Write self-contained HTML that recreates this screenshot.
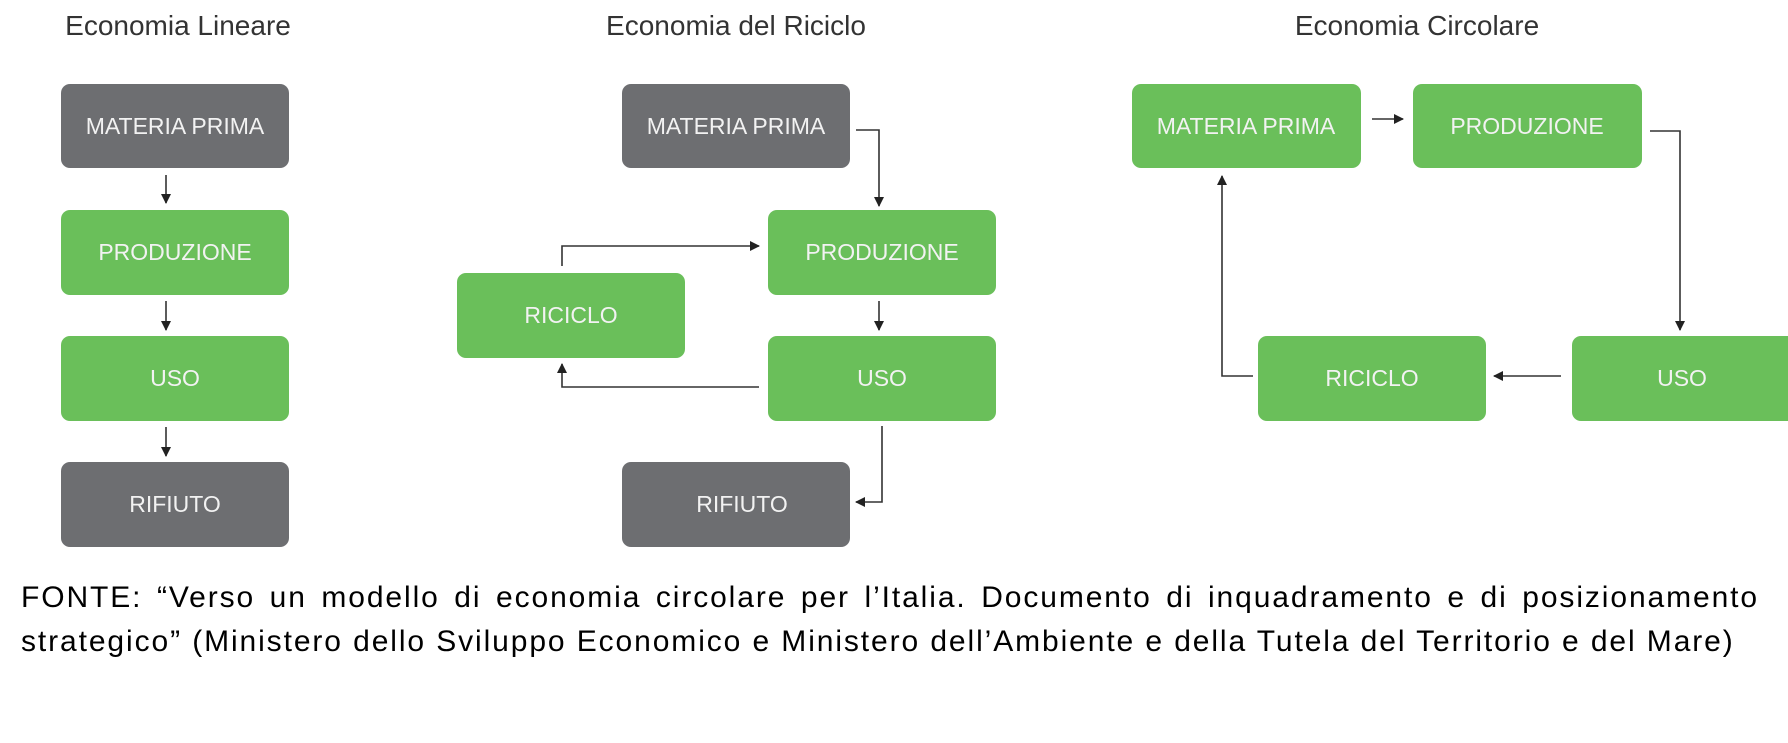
<!DOCTYPE html>
<html><head><meta charset="utf-8"><style>
html,body{margin:0;padding:0;background:#fff;}
svg{display:block;position:absolute;left:0;top:0;}
.cap{position:absolute;left:21px;width:1738px;font-family:"Liberation Sans",Arial,sans-serif;font-size:30px;color:#000;white-space:nowrap;line-height:44px;letter-spacing:1.9px;}
.l1{top:576px;text-align:justify;text-align-last:justify;white-space:normal;}
.l2{top:620px;}
</style></head><body>
<svg width="1788" height="743" viewBox="0 0 1788 743" xmlns="http://www.w3.org/2000/svg">
<defs>
<marker id="a" markerWidth="10" markerHeight="10" refX="9" refY="5" orient="auto" markerUnits="userSpaceOnUse">
<path d="M0,0 L10,5 L0,10 z" fill="#222"/>
</marker>
</defs>
<rect width="1788" height="743" fill="#fff"/>
<g font-family="Liberation Sans, Arial, sans-serif" font-size="28" fill="#333" text-anchor="middle">
<text x="178" y="35">Economia Lineare</text>
<text x="736" y="35">Economia del Riciclo</text>
<text x="1417" y="35">Economia Circolare</text>
</g>
<g>
<rect x="61" y="84" width="228" height="84" rx="9" fill="#6d6e71"/>
<rect x="61" y="210" width="228" height="85" rx="9" fill="#6abf5a"/>
<rect x="61" y="336" width="228" height="85" rx="9" fill="#6abf5a"/>
<rect x="61" y="462" width="228" height="85" rx="9" fill="#6d6e71"/>

<rect x="622" y="84" width="228" height="84" rx="9" fill="#6d6e71"/>
<rect x="768" y="210" width="228" height="85" rx="9" fill="#6abf5a"/>
<rect x="768" y="336" width="228" height="85" rx="9" fill="#6abf5a"/>
<rect x="622" y="462" width="228" height="85" rx="9" fill="#6d6e71"/>
<rect x="457" y="273" width="228" height="85" rx="9" fill="#6abf5a"/>

<rect x="1132" y="84" width="229" height="84" rx="9" fill="#6abf5a"/>
<rect x="1413" y="84" width="229" height="84" rx="9" fill="#6abf5a"/>
<rect x="1572" y="336" width="230" height="85" rx="9" fill="#6abf5a"/>
<rect x="1258" y="336" width="228" height="85" rx="9" fill="#6abf5a"/>
</g>
<g font-family="Liberation Sans, Arial, sans-serif" font-size="23" fill="#f2f2f2" text-anchor="middle">
<text x="175" y="134">MATERIA PRIMA</text>
<text x="175" y="260">PRODUZIONE</text>
<text x="175" y="386">USO</text>
<text x="175" y="512">RIFIUTO</text>
<text x="736" y="134">MATERIA PRIMA</text>
<text x="882" y="260">PRODUZIONE</text>
<text x="882" y="386">USO</text>
<text x="742" y="512">RIFIUTO</text>
<text x="571" y="323">RICICLO</text>
<text x="1246" y="134">MATERIA PRIMA</text>
<text x="1527" y="134">PRODUZIONE</text>
<text x="1682" y="386">USO</text>
<text x="1372" y="386">RICICLO</text>
</g>
<g stroke="#333" stroke-width="1.6" fill="none" marker-end="url(#a)">
<path d="M166 175 V203"/>
<path d="M166 301 V330"/>
<path d="M166 427 V456"/>
<path d="M856 130 H879 V206"/>
<path d="M879 301 V330"/>
<path d="M562 266 V246 H759"/>
<path d="M759 387 H562 V364"/>
<path d="M882 426 V502 H856"/>
<path d="M1372 119 H1403"/>
<path d="M1650 131 H1680 V330"/>
<path d="M1561 376 H1494"/>
<path d="M1253 376 H1222 V176"/>
</g>
</svg>
<div class="cap l1">FONTE: “Verso un modello di economia circolare per l’Italia. Documento di inquadramento e di posizionamento</div>
<div class="cap l2">strategico” (Ministero dello Sviluppo Economico e Ministero dell’Ambiente e della Tutela del Territorio e del Mare)</div>
</body></html>
